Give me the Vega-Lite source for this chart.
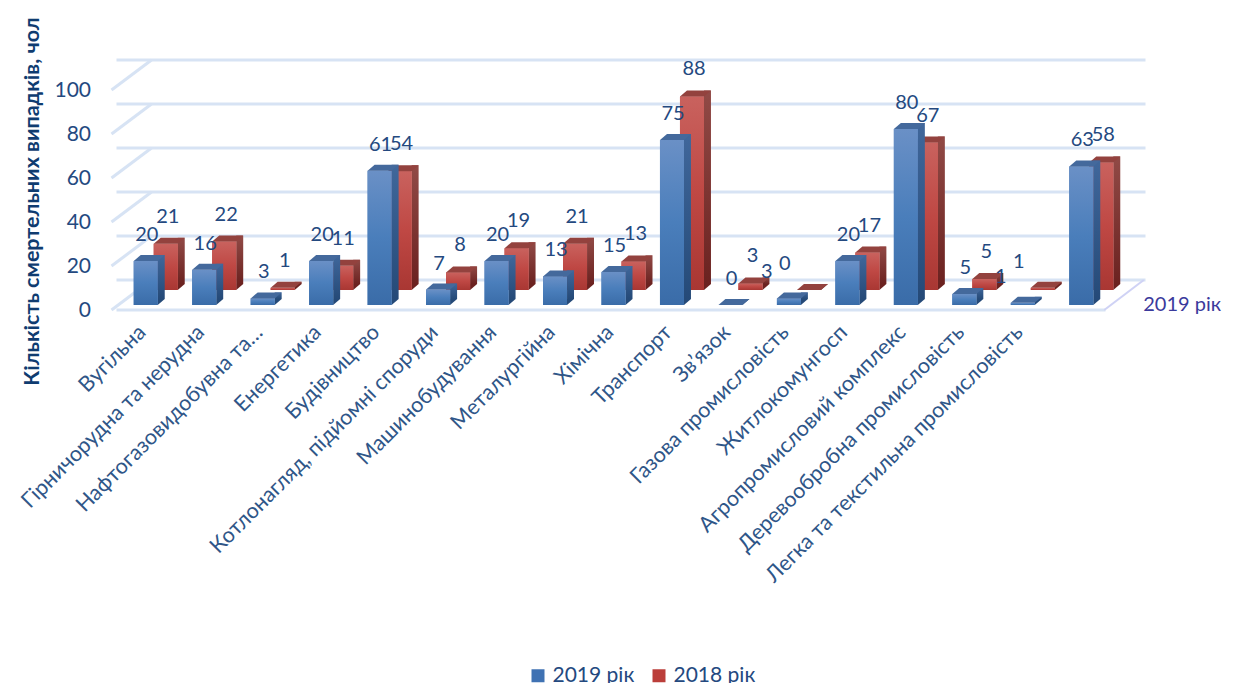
{
  "$schema": "https://vega.github.io/schema/vega-lite/v6.json",
  "width": 994,
  "height": 220,
  "autosize": "none",
  "padding": {"left": 116.5, "top": 85, "right": 131.5, "bottom": 378},
  "background": "white",
  "config": {
    "view": {"stroke": null},
    "font": "Lato",
    "text": {"font": "Lato", "fontSize": 20, "fill": "#24497f"}
  },
  "datasets": {
    "ticks": [
      {"tick": 0, "cat": "Вугільна"},
      {"tick": 20, "cat": "Вугільна"},
      {"tick": 40, "cat": "Вугільна"},
      {"tick": 60, "cat": "Вугільна"},
      {"tick": 80, "cat": "Вугільна"},
      {"tick": 100, "cat": "Вугільна"}
    ],
    "rows": [
      {"cat": "Вугільна", "year": "2019 рік", "value": 20},
      {"cat": "Вугільна", "year": "2018 рік", "value": 21},
      {"cat": "Гірничорудна та нерудна", "year": "2019 рік", "value": 16},
      {"cat": "Гірничорудна та нерудна", "year": "2018 рік", "value": 22},
      {"cat": "Нафтогазовидобувна та…", "year": "2019 рік", "value": 3},
      {"cat": "Нафтогазовидобувна та…", "year": "2018 рік", "value": 1},
      {"cat": "Енергетика", "year": "2019 рік", "value": 20},
      {"cat": "Енергетика", "year": "2018 рік", "value": 11},
      {"cat": "Будівництво", "year": "2019 рік", "value": 61},
      {"cat": "Будівництво", "year": "2018 рік", "value": 54},
      {"cat": "Котлонагляд, підйомні споруди", "year": "2019 рік", "value": 7},
      {"cat": "Котлонагляд, підйомні споруди", "year": "2018 рік", "value": 8},
      {"cat": "Машинобудування", "year": "2019 рік", "value": 20},
      {"cat": "Машинобудування", "year": "2018 рік", "value": 19},
      {"cat": "Металургійна", "year": "2019 рік", "value": 13},
      {"cat": "Металургійна", "year": "2018 рік", "value": 21},
      {"cat": "Хімічна", "year": "2019 рік", "value": 15},
      {"cat": "Хімічна", "year": "2018 рік", "value": 13},
      {"cat": "Транспорт", "year": "2019 рік", "value": 75},
      {"cat": "Транспорт", "year": "2018 рік", "value": 88},
      {"cat": "Зв’язок", "year": "2019 рік", "value": 0},
      {"cat": "Зв’язок", "year": "2018 рік", "value": 3},
      {"cat": "Газова промисловість", "year": "2019 рік", "value": 3},
      {"cat": "Газова промисловість", "year": "2018 рік", "value": 0},
      {"cat": "Житлокомунгосп", "year": "2019 рік", "value": 20},
      {"cat": "Житлокомунгосп", "year": "2018 рік", "value": 17},
      {"cat": "Агропромисловий комплекс", "year": "2019 рік", "value": 80},
      {"cat": "Агропромисловий комплекс", "year": "2018 рік", "value": 67},
      {"cat": "Деревообробна промисловість", "year": "2019 рік", "value": 5},
      {"cat": "Деревообробна промисловість", "year": "2018 рік", "value": 5},
      {"cat": "Легка та текстильна промисловість", "year": "2019 рік", "value": 1},
      {"cat": "Легка та текстильна промисловість", "year": "2018 рік", "value": 1},
      {"cat": " ", "year": "2019 рік", "value": 63},
      {"cat": " ", "year": "2018 рік", "value": 58}
    ]
  },
  "layer": [
    {
      "data": {"name": "ticks"},
      "mark": {"type": "rule", "xOffset": 35, "yOffset": -25, "stroke": "#d7e3f4", "strokeWidth": 3},
      "encoding": {
        "y": {"field": "tick", "type": "quantitative", "scale": {"domain": [0, 100], "nice": false}}
      }
    },
    {
      "data": {"name": "ticks"},
      "mark": {"type": "point", "shape": "M5.8,-25L-34.2,5", "size": 4, "filled": false, "stroke": "#d7e3f4", "strokeWidth": 3, "opacity": 1},
      "encoding": {
        "x": {"field": "cat", "type": "nominal", "sort": null, "scale": {"type": "band", "paddingInner": 0, "paddingOuter": 0}},
        "y": {"field": "tick", "type": "quantitative", "scale": {"domain": [0, 100], "nice": false}}
      }
    },
    {
      "data": {"name": "ticks"},
      "transform": [{"filter": "datum.tick === 0"}],
      "mark": {"type": "rule", "xOffset": -5, "yOffset": 5, "stroke": "#d7e3f4", "strokeWidth": 3},
      "encoding": {
        "y": {"field": "tick", "type": "quantitative", "scale": {"domain": [0, 100], "nice": false}}
      }
    },
    {
      "data": {"name": "rows"},
      "transform": [{"filter": "datum.year === '2018 рік'"}],
      "layer": [
        {
          "mark": {"type": "bar", "width": 7, "xOffset": 35.5, "yOffset": -21, "y2Offset": -21, "color": {"gradient": "linear", "x1": 0, "y1": 0, "x2": 0, "y2": 1, "stops": [{"offset": 0, "color": "#914a46"}, {"offset": 1, "color": "#6b2220"}]}},
          "encoding": {
            "x": {"field": "cat", "type": "nominal", "sort": null, "scale": {"type": "band", "paddingInner": 0, "paddingOuter": 0}},
            "y": {"field": "value", "type": "quantitative", "stack": null, "scale": {"domain": [0, 100], "nice": false}},
            "y2": {"datum": 0}
          }
        },
        {
          "mark": {"type": "point", "shape": "M12,0L12,-6L19,-6Z", "size": 4, "filled": true, "color": "#6b2220", "opacity": 1, "xOffset": 20, "yOffset": -15},
          "encoding": {
            "x": {"field": "cat", "type": "nominal", "sort": null, "scale": {"type": "band", "paddingInner": 0, "paddingOuter": 0}},
            "y": {"datum": 0, "type": "quantitative", "scale": {"domain": [0, 100], "nice": false}}
          }
        },
        {
          "mark": {"type": "bar", "width": 24, "xOffset": 20, "yOffset": -15, "y2Offset": -15},
          "encoding": {
            "x": {"field": "cat", "type": "nominal", "sort": null, "scale": {"type": "band", "paddingInner": 0, "paddingOuter": 0}},
            "y": {"field": "value", "type": "quantitative", "stack": null, "scale": {"domain": [0, 100], "nice": false}},
            "y2": {"datum": 0},
            "color": {"field": "year", "type": "nominal", "scale": {"domain": ["2019 рік", "2018 рік"], "range": ["#3f72b3", "#bb3e3a"]}}
          }
        },
        {
          "mark": {"type": "bar", "width": 24, "xOffset": 20, "yOffset": -15, "y2Offset": -15, "color": {"gradient": "linear", "x1": 0, "y1": 0, "x2": 0, "y2": 1, "stops": [{"offset": 0, "color": "#c9625e"}, {"offset": 0.5, "color": "#bf4844"}, {"offset": 1, "color": "#a93733"}]}},
          "encoding": {
            "x": {"field": "cat", "type": "nominal", "sort": null, "scale": {"type": "band", "paddingInner": 0, "paddingOuter": 0}},
            "y": {"field": "value", "type": "quantitative", "stack": null, "scale": {"domain": [0, 100], "nice": false}},
            "y2": {"datum": 0}
          }
        },
        {
          "mark": {"type": "point", "shape": "M-12,0L12,0L19,-6L-5,-6Z", "size": 4, "filled": true, "color": "#93423e", "opacity": 1, "xOffset": 20, "yOffset": -15},
          "encoding": {
            "x": {"field": "cat", "type": "nominal", "sort": null, "scale": {"type": "band", "paddingInner": 0, "paddingOuter": 0}},
            "y": {"field": "value", "type": "quantitative", "scale": {"domain": [0, 100], "nice": false}}
          }
        }
      ]
    },
    {
      "data": {"name": "rows"},
      "transform": [{"filter": "datum.year === '2019 рік'"}],
      "layer": [
        {
          "mark": {"type": "bar", "width": 7, "xOffset": 15.5, "yOffset": -6, "y2Offset": -6, "color": {"gradient": "linear", "x1": 0, "y1": 0, "x2": 0, "y2": 1, "stops": [{"offset": 0, "color": "#40679b"}, {"offset": 1, "color": "#254a78"}]}},
          "encoding": {
            "x": {"field": "cat", "type": "nominal", "sort": null, "scale": {"type": "band", "paddingInner": 0, "paddingOuter": 0}},
            "y": {"field": "value", "type": "quantitative", "stack": null, "scale": {"domain": [0, 100], "nice": false}},
            "y2": {"datum": 0}
          }
        },
        {
          "mark": {"type": "point", "shape": "M12,0L12,-6L19,-6Z", "size": 4, "filled": true, "color": "#254a78", "opacity": 1},
          "encoding": {
            "x": {"field": "cat", "type": "nominal", "sort": null, "scale": {"type": "band", "paddingInner": 0, "paddingOuter": 0}},
            "y": {"datum": 0, "type": "quantitative", "scale": {"domain": [0, 100], "nice": false}}
          }
        },
        {
          "mark": {"type": "bar", "width": 24},
          "encoding": {
            "x": {
              "field": "cat", "type": "nominal", "sort": null,
              "scale": {"type": "band", "paddingInner": 0, "paddingOuter": 0},
              "axis": {
                "title": "Галузь нагляду", "titleFont": "Lato", "titleFontSize": 22, "titleFontWeight": "bold", "titleColor": "#0f3c70",
                "titleX": 528, "titleY": 512, "titleAlign": "center", "titleBaseline": "middle",
                "domain": false, "ticks": false, "labelAngle": -45, "labelAlign": "right", "labelBaseline": "middle",
                "labelFont": "Lato", "labelFontSize": 21.5, "labelColor": "#2f5688", "labelPadding": 24, "labelOffset": -3, "labelLimit": 600, "labelOverlap": false
              }
            },
            "y": {
              "field": "value", "type": "quantitative", "stack": null,
              "scale": {"domain": [0, 100], "nice": false},
              "axis": {
                "title": "Кількість смертельних випадків, чол", "titleFont": "Lato", "titleFontSize": 21.5, "titleFontWeight": "bold", "titleColor": "#0f3c70",
                "titleX": -84, "titleY": 116, "titleAlign": "center", "titleBaseline": "middle", "titleAngle": -90,
                "values": [0, 20, 40, 60, 80, 100], "domain": false, "ticks": false, "grid": false,
                "labelFont": "Lato", "labelFontSize": 21, "labelColor": "#24497f", "labelPadding": 26, "labelOffset": 5
              }
            },
            "y2": {"datum": 0},
            "color": {
              "field": "year", "type": "nominal",
              "scale": {"domain": ["2019 рік", "2018 рік"], "range": ["#3f72b3", "#bb3e3a"]},
              "legend": {
                "title": null, "orient": "none", "direction": "horizontal", "legendX": 411, "legendY": 580,
                "symbolType": "square", "symbolSize": 169, "symbolStrokeWidth": 0, "columnPadding": 14,
                "labelFont": "Lato", "labelFontSize": 21, "labelColor": "#24497f", "labelOffset": 4
              }
            }
          }
        },
        {
          "mark": {"type": "bar", "width": 24, "color": {"gradient": "linear", "x1": 0, "y1": 0, "x2": 0, "y2": 1, "stops": [{"offset": 0, "color": "#6a90c6"}, {"offset": 0.5, "color": "#4a7ebb"}, {"offset": 1, "color": "#3a6ca8"}]}},
          "encoding": {
            "x": {"field": "cat", "type": "nominal", "sort": null, "scale": {"type": "band", "paddingInner": 0, "paddingOuter": 0}},
            "y": {"field": "value", "type": "quantitative", "stack": null, "scale": {"domain": [0, 100], "nice": false}},
            "y2": {"datum": 0}
          }
        },
        {
          "mark": {"type": "point", "shape": "M-12,0L12,0L19,-6L-5,-6Z", "size": 4, "filled": true, "color": "#44699c", "opacity": 1},
          "encoding": {
            "x": {"field": "cat", "type": "nominal", "sort": null, "scale": {"type": "band", "paddingInner": 0, "paddingOuter": 0}},
            "y": {"field": "value", "type": "quantitative", "scale": {"domain": [0, 100], "nice": false}}
          }
        }
      ]
    },
    {
      "data": {"name": "rows"},
      "transform": [{"filter": "datum.cat === ' ' && datum.year === '2019 рік'"}],
      "mark": {"type": "point", "shape": "M23,5L62.5,-25", "size": 4, "filled": false, "stroke": "#cfd2f5", "strokeWidth": 2, "opacity": 1},
      "encoding": {
        "x": {"field": "cat", "type": "nominal", "sort": null, "scale": {"type": "band", "paddingInner": 0, "paddingOuter": 0}},
        "y": {"datum": 0, "type": "quantitative", "scale": {"domain": [0, 100], "nice": false}}
      }
    },
    {
      "data": {"name": "rows"},
      "transform": [{"filter": "datum.year === '2018 рік' && datum.cat !== 'Газова промисловість' && datum.cat !== 'Легка та текстильна промисловість'"}],
      "mark": {"type": "text", "xOffset": 22, "yOffset": -42, "baseline": "middle"},
      "encoding": {
        "x": {"field": "cat", "type": "nominal", "sort": null, "scale": {"type": "band", "paddingInner": 0, "paddingOuter": 0}},
        "y": {"field": "value", "type": "quantitative", "scale": {"domain": [0, 100], "nice": false}},
        "text": {"field": "value", "type": "quantitative"}
      }
    },
    {
      "data": {"name": "rows"},
      "transform": [{"filter": "datum.year === '2019 рік' && datum.cat !== 'Газова промисловість' && datum.cat !== 'Легка та текстильна промисловість'"}],
      "mark": {"type": "text", "xOffset": 1, "yOffset": -26, "baseline": "middle"},
      "encoding": {
        "x": {"field": "cat", "type": "nominal", "sort": null, "scale": {"type": "band", "paddingInner": 0, "paddingOuter": 0}},
        "y": {"field": "value", "type": "quantitative", "scale": {"domain": [0, 100], "nice": false}},
        "text": {"field": "value", "type": "quantitative"}
      }
    },
    {
      "data": {"name": "rows"},
      "transform": [{"filter": "datum.year === '2018 рік' && (datum.cat === 'Газова промисловість' || datum.cat === 'Легка та текстильна промисловість')"}],
      "mark": {"type": "text", "xOffset": -4, "yOffset": -41, "baseline": "middle"},
      "encoding": {
        "x": {"field": "cat", "type": "nominal", "sort": null, "scale": {"type": "band", "paddingInner": 0, "paddingOuter": 0}},
        "y": {"field": "value", "type": "quantitative", "scale": {"domain": [0, 100], "nice": false}},
        "text": {"field": "value", "type": "quantitative"}
      }
    },
    {
      "data": {"name": "rows"},
      "transform": [{"filter": "datum.year === '2019 рік' && (datum.cat === 'Газова промисловість' || datum.cat === 'Легка та текстильна промисловість')"}],
      "mark": {"type": "text", "xOffset": -22, "yOffset": -26, "baseline": "middle"},
      "encoding": {
        "x": {"field": "cat", "type": "nominal", "sort": null, "scale": {"type": "band", "paddingInner": 0, "paddingOuter": 0}},
        "y": {"field": "value", "type": "quantitative", "scale": {"domain": [0, 100], "nice": false}},
        "text": {"field": "value", "type": "quantitative"}
      }
    },
    {
      "data": {"name": "rows"},
      "transform": [{"filter": "datum.cat === ' ' && datum.year === '2019 рік'"}],
      "mark": {"type": "text", "xOffset": 62, "yOffset": 0, "align": "left", "baseline": "middle", "fill": "#3b3a9c"},
      "encoding": {
        "x": {"field": "cat", "type": "nominal", "sort": null, "scale": {"type": "band", "paddingInner": 0, "paddingOuter": 0}},
        "y": {"datum": 0, "type": "quantitative", "scale": {"domain": [0, 100], "nice": false}},
        "text": {"field": "year", "type": "nominal"}
      }
    }
  ]
}
